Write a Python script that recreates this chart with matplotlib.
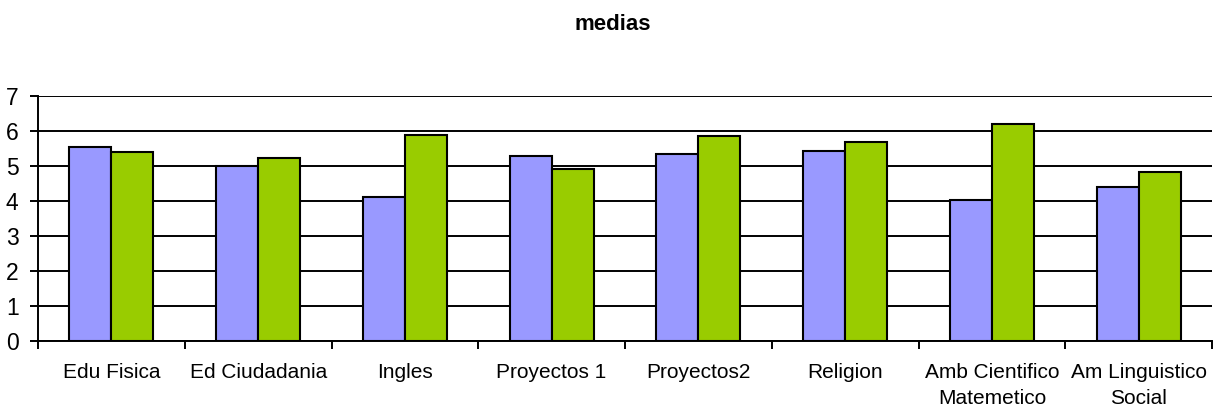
import matplotlib.pyplot as plt
import numpy as np

plt.rcParams['font.family'] = ['Liberation Sans', 'DejaVu Sans']

categorias = ['Edu Fisica', 'Ed Ciudadania', 'Ingles', 'Proyectos 1', 'Proyectos2',
              'Religion', 'Amb Cientifico\nMatemetico', 'Am Linguistico\nSocial']
serie1 = [5.53, 5.00, 4.11, 5.28, 5.33, 5.42, 4.04, 4.39]
serie2 = [5.39, 5.24, 5.89, 4.92, 5.86, 5.70, 6.19, 4.84]
yticks = [0, 1, 2, 3, 4, 5, 6, 7]

fig = plt.figure(figsize=(12.13, 4.07), dpi=100)
ax = fig.add_axes([38 / 1213, 1 - 341 / 407, 1174 / 1213, 245 / 407])

x = np.arange(len(categorias))
w = 1 / 3.5
ax.bar(x - w / 2, serie1, w, color='#9999FF', edgecolor='black', linewidth=1.5, zorder=3)
ax.bar(x + w / 2, serie2, w, color='#99CC00', edgecolor='black', linewidth=1.5, zorder=3)

ax.set_xlim(-0.5, len(categorias) - 0.5)
ax.set_ylim(0, 7)
ax.set_yticks(yticks)
ax.yaxis.grid(True, color='black', linewidth=1.4, zorder=0)
ax.set_axisbelow(True)

# ticks at category boundaries, labels centred under groups
ax.set_xticks(np.arange(len(categorias) + 1) - 0.5)
ax.set_xticklabels([])
ax.set_xticks(x, minor=True)
ax.set_xticklabels(categorias, minor=True, fontsize=15, linespacing=1.45)
ax.tick_params(axis='x', which='minor', length=0, pad=16)
ax.tick_params(axis='x', which='major', length=6, width=1.4, direction='out')
ax.tick_params(axis='y', length=6, width=1.4, labelsize=16.5, pad=8)

for s in ['top', 'right']:
    ax.spines[s].set_visible(False)
ax.spines['left'].set_linewidth(1.4)
ax.spines['bottom'].set_linewidth(1.4)

fig.text(0.505, 1 - 25 / 407, 'medias', ha='center', va='center',
         fontsize=16, fontweight='bold')

fig.savefig('out.png', dpi=100)
